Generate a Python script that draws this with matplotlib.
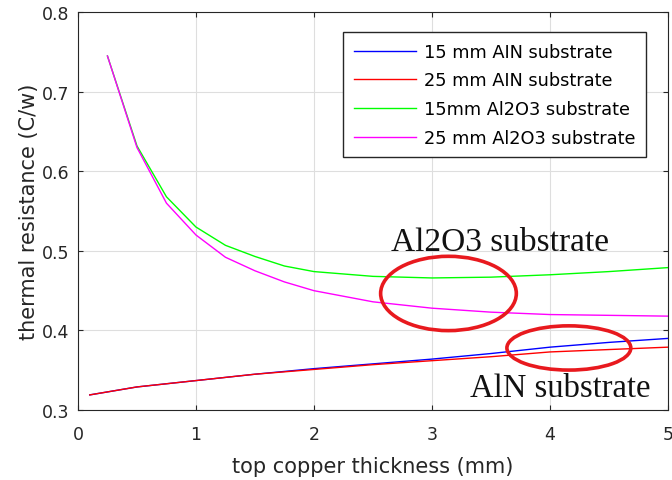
import matplotlib
matplotlib.use("Agg")
import matplotlib.pyplot as plt
from matplotlib.patches import Ellipse

# data
x_aln = [0.1, 0.5, 1.0, 1.5, 2.0, 2.5, 3.0, 3.5, 4.0, 4.5, 5.0]
aln_15 = [0.319, 0.329, 0.337, 0.345, 0.352, 0.358, 0.364, 0.371, 0.379, 0.385, 0.390]
aln_25 = [0.319, 0.329, 0.337, 0.345, 0.351, 0.357, 0.362, 0.367, 0.373, 0.376, 0.379]

x_al2o3 = [0.25, 0.5, 0.75, 1.0, 1.25, 1.5, 1.75, 2.0, 2.5, 3.0, 3.5, 4.0, 4.5, 5.0]
al2o3_15 = [0.745, 0.632, 0.568, 0.530, 0.507, 0.493, 0.481, 0.474, 0.468, 0.466, 0.467, 0.470, 0.474, 0.479]
al2o3_25 = [0.745, 0.630, 0.560, 0.520, 0.492, 0.475, 0.461, 0.450, 0.436, 0.428, 0.423, 0.420, 0.419, 0.418]

labels = ["15 mm AIN substrate", "25 mm AIN substrate",
          "15mm Al2O3 substrate", "25 mm Al2O3 substrate"]

fig = plt.figure(figsize=(6.72, 4.81), dpi=100)
ax = fig.add_axes([0.116, 0.1455, 0.878, 0.827])

ax.plot(x_aln, aln_15, color="#0000ff", lw=1, label=labels[0])
ax.plot(x_aln, aln_25, color="#ff0000", lw=1, label=labels[1])
ax.plot(x_al2o3, al2o3_15, color="#00ff00", lw=1, label=labels[2])
ax.plot(x_al2o3, al2o3_25, color="#ff00ff", lw=1, label=labels[3])

ax.set_xlim(0, 5)
ax.set_ylim(0.3, 0.8)
ax.set_xticks([0, 1, 2, 3, 4, 5])
ax.set_yticks([0.3, 0.4, 0.5, 0.6, 0.7, 0.8])
ax.grid(True, color="#dedede", lw=0.8)
ax.tick_params(direction="in", top=True, right=True, labelsize=12.5, colors="#262626")
ax.tick_params(axis="x", pad=11)
ax.tick_params(axis="y", pad=6)
for s in ax.spines.values():
    s.set_color("#262626")
ax.set_xlabel("top copper thickness (mm)", fontsize=15, color="#262626", labelpad=9)
ax.set_ylabel("thermal resistance (C/w)", fontsize=15, color="#262626", labelpad=2)

# hand drawn annotations
ax.add_patch(Ellipse((3.14, 0.4465), 1.15, 0.0934, fill=False, ec="#e8191e", lw=2.6, zorder=5))
ax.add_patch(Ellipse((4.16, 0.378), 1.05, 0.0556, fill=False, ec="#e8191e", lw=2.6, zorder=5))
ax.text(3.576, 0.5008, "Al2O3 substrate", fontsize=24, family="Liberation Serif",
        ha="center", va="baseline", color="#111111")
ax.text(4.09, 0.3177, "AlN substrate", fontsize=23.5, family="Liberation Serif",
        ha="center", va="baseline", color="#111111")

leg = ax.legend(loc="upper right", fontsize=12.8, fancybox=False, framealpha=1,
                edgecolor="#262626", handlelength=3.5, handletextpad=0.45,
                borderpad=0.6, labelspacing=0.6, borderaxespad=0,
                bbox_to_anchor=(0.963, 0.95))
leg.get_frame().set_linewidth(1)

fig.savefig("out.png", dpi=100)
